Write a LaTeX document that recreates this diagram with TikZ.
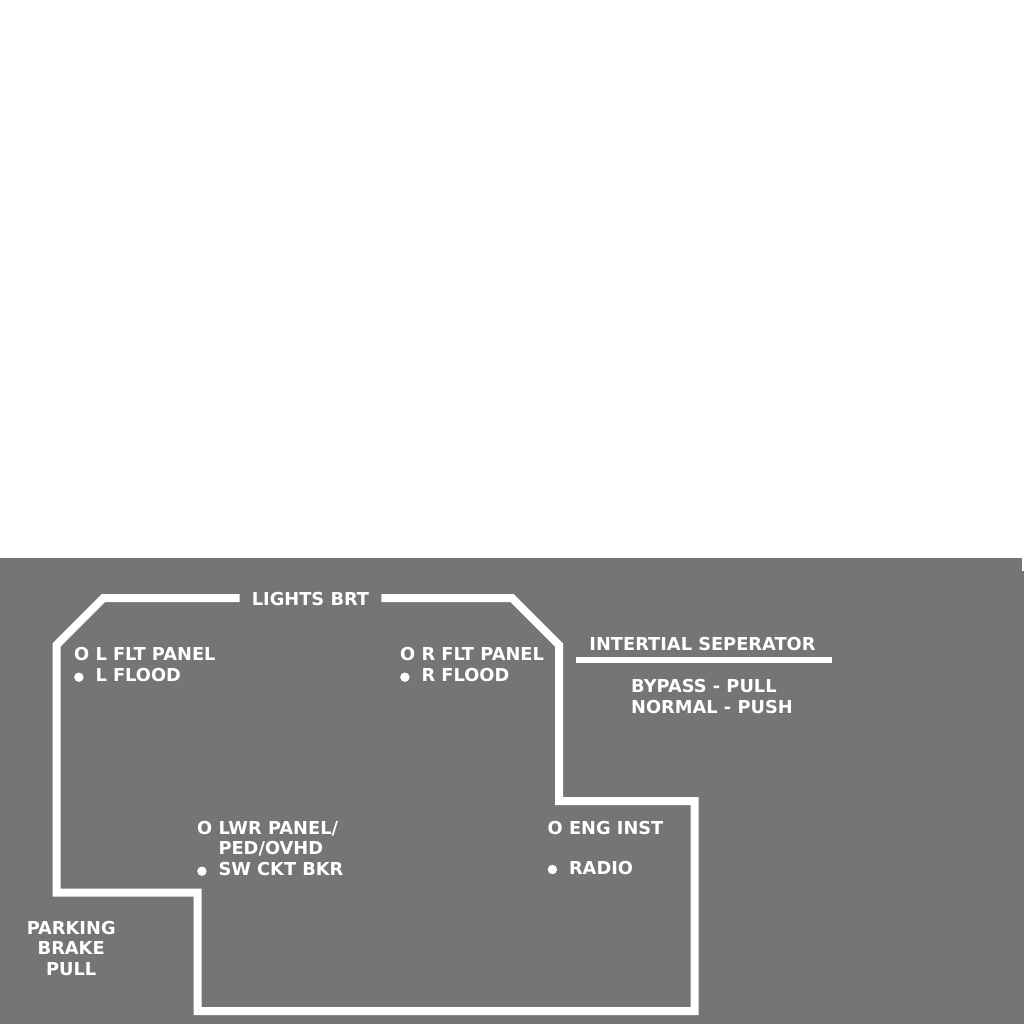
\documentclass[tikz,border=0pt]{standalone}
\usepackage{fontspec}
\setmainfont{DejaVu Sans}
\definecolor{panelgray}{RGB}{117,117,117}
\tikzset{
  panel/.style={draw=white, line width=8pt, line join=miter},
  lbl/.style={text=white, font=\bfseries\fontsize{17.8}{20.8}\selectfont,
    inner sep=0pt, align=left, anchor=base west},
}
% filled dot in place of the O
\newcommand{\litdot}{\rlap{\tikz[baseline]\fill[white] (4.7pt,4.5pt) circle (4.7pt);}\hphantom{O}}

\begin{document}
\begin{tikzpicture}[x=1pt,y=-1pt]
  \fill[white] (0,0) rectangle (1024,1024);
  \fill[panelgray] (0,558) rectangle (1022,1024);
  \fill[panelgray] (1022,571) rectangle (1024,1024);

  % outline of the lights panel
  \coordinate (toprow) at (0,598);
  \node[lbl, anchor=base, inner xsep=12pt] (brt) at (310.5,605) {LIGHTS BRT};
  \draw[panel] (brt.east |- toprow) -- (512,598) -- (559,645) -- (559,801)
    -- (694.5,801) -- (694.5,1011) -- (197.5,1011) -- (197.5,892.5)
    -- (56.5,892.5) -- (56.5,645) -- (103.5,598) -- (brt.west |- toprow);

  % anchor base sits on the last line
  \node[lbl] (lflt) at (74,681.7) {O L FLT PANEL\\\litdot{} L FLOOD};
  \node[lbl] (rflt) at (400,681.7) {O R FLT PANEL\\\litdot{} R FLOOD};
  \node[lbl] (lwr) at (197,875.7) {O LWR PANEL/\\\hphantom{O} PED/OVHD\\\litdot{} SW CKT BKR};
  \node[lbl] (eng) at (547.5,874) {O ENG INST\\[19.2pt]\litdot{} RADIO};

  % inertial separator
  \node[lbl, anchor=base] (sep) at (702.5,650.7) {INTERTIAL SEPERATOR};
  \draw[white, line width=6pt] (576,660.3) -- (831.7,660.3);
  \node[lbl] (bypass) at (631,713.3) {BYPASS - PULL\\NORMAL - PUSH};

  \node[lbl, anchor=base, align=center] (brake) at (71.2,975.7) {PARKING\\BRAKE\\PULL};
\end{tikzpicture}
\end{document}
